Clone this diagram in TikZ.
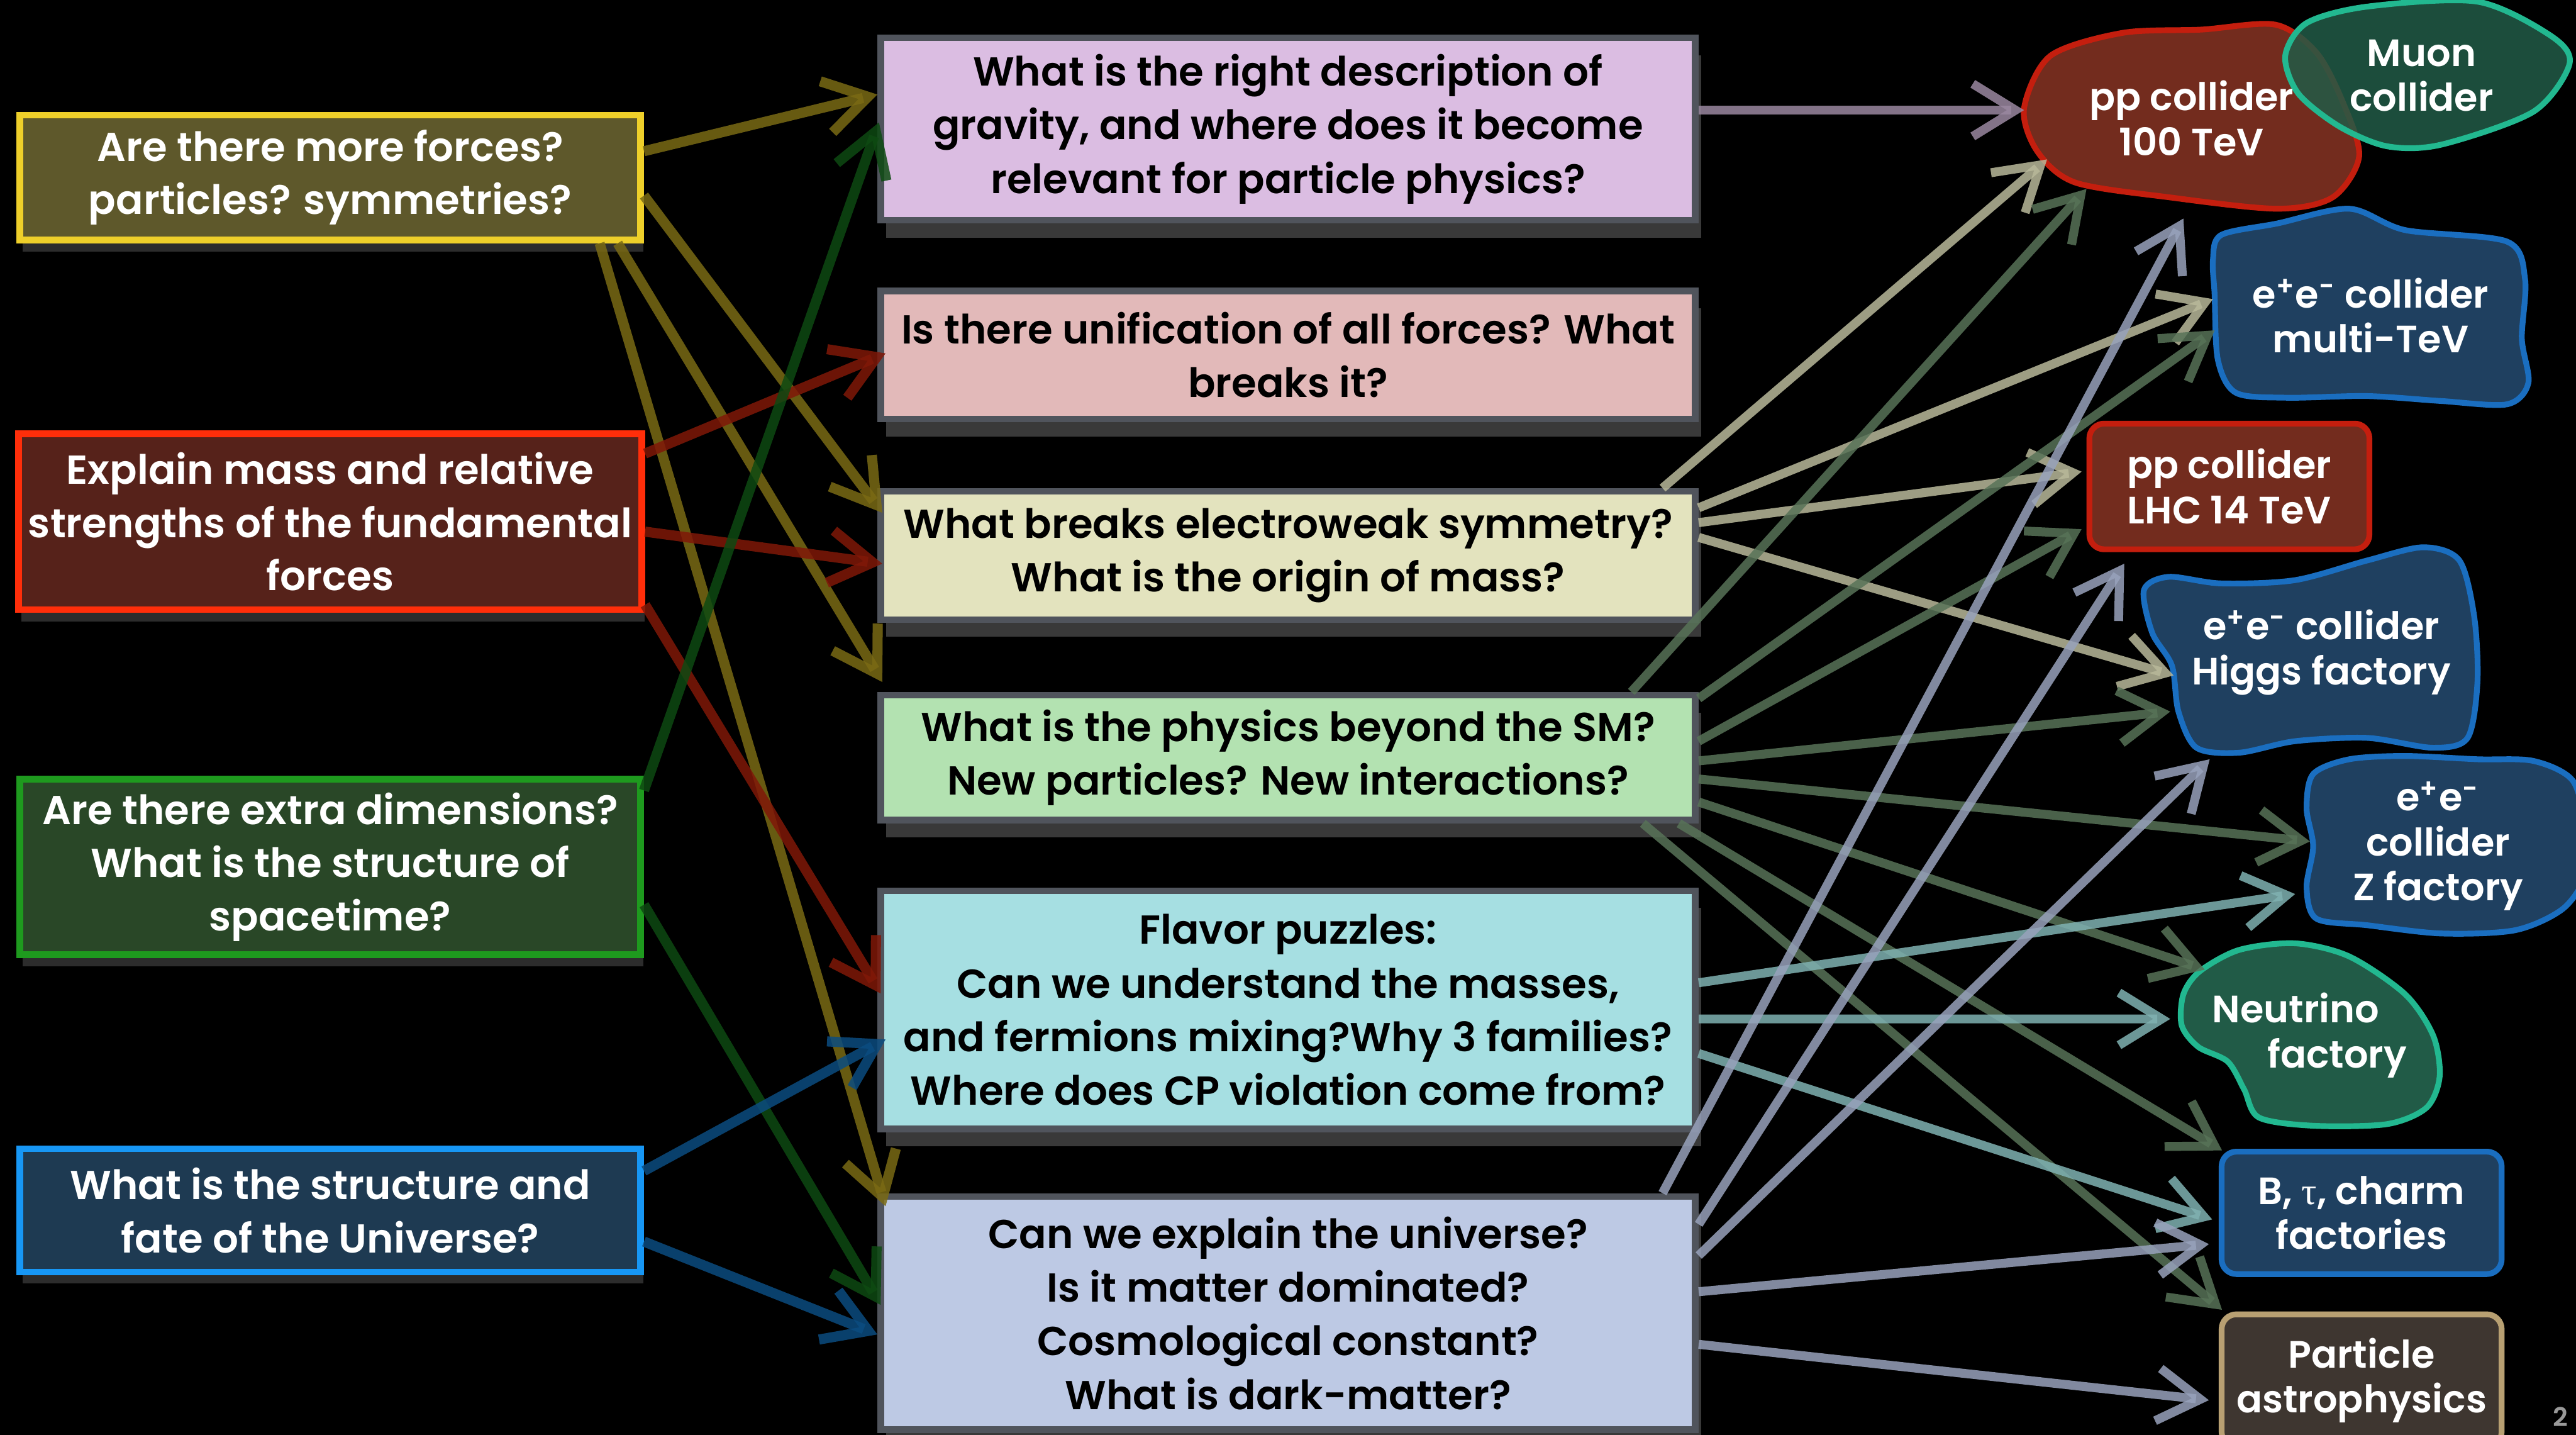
\documentclass[tikz,border=0pt]{standalone}
\usepackage{fontspec}
\setmainfont{Poppins}[BoldFont={* SemiBold}]
\newfontfamily\grkfont{Liberation Serif}
\usetikzlibrary{arrows.meta,calc,shadows}
\definecolor{yelline}{HTML}{EECF2A}
\definecolor{yelfill}{HTML}{5E582B}
\definecolor{redline}{HTML}{FF2E0A}
\definecolor{redfill}{HTML}{56221A}
\definecolor{grnline}{HTML}{1E9A1E}
\definecolor{grnfill}{HTML}{294727}
\definecolor{bluline}{HTML}{1797F5}
\definecolor{blufill}{HTML}{1E3A52}
\definecolor{boxgray}{HTML}{50545C}
\definecolor{gravfill}{HTML}{DBBDE2}
\definecolor{uniffill}{HTML}{E2B9B9}
\definecolor{ewfill}{HTML}{E3E3BE}
\definecolor{bsmfill}{HTML}{B3E2B1}
\definecolor{flavfill}{HTML}{A6DFE2}
\definecolor{cosmfill}{HTML}{BDC9E4}
\definecolor{ppline}{HTML}{C41E0E}
\definecolor{ppfill}{HTML}{732C1E}
\definecolor{muline}{HTML}{22B890}
\definecolor{mufill}{HTML}{215B47}
\definecolor{eeline}{HTML}{1A6EC0}
\definecolor{eefill}{HTML}{1F4060}
\definecolor{astline}{HTML}{B8A072}
\definecolor{astfill}{HTML}{3E3630}
\definecolor{ayel}{HTML}{7A6A14}
\definecolor{ared}{HTML}{801808}
\definecolor{agrn}{HTML}{0E4A12}
\definecolor{ablu}{HTML}{0B4C80}
\definecolor{apur}{HTML}{9A88A0}
\definecolor{acrm}{HTML}{B9B99A}
\definecolor{agry}{HTML}{587358}
\definecolor{acyn}{HTML}{80B2B2}
\definecolor{alav}{HTML}{98A2BC}

\begin{document}
\begin{tikzpicture}[x=0.02cm,y=-0.02cm,
		qbox/.style={draw,line width=2.3pt,minimum width=7.56cm,align=center,text=white,font=\bfseries\fontsize{14}{18.4}\selectfont,drop shadow={shadow xshift=1pt,shadow yshift=-4pt,fill=gray,opacity=.35}},
		pbox/.style={draw=boxgray,line width=2.3pt,minimum width=9.92cm,align=center,font=\bfseries\fontsize{14}{18.6}\selectfont,drop shadow={shadow xshift=2pt,shadow yshift=-6pt,fill=gray,opacity=.45}},
		blob/.style={line width=2pt},
		flab/.style={align=center,text=white,font=\bfseries\fontsize{13.2}{15.6}\selectfont},
		fbox/.style={flab,draw,line width=2pt,rounded corners=0.18cm,minimum width=3.41cm},
		arr/.style={line width=3.5pt,opacity=.85,-{Straight Barb[length=0.52cm,width=0.64cm]}},
		rarr/.style={arr,line width=3.1pt}]
	\fill[black](0,0)rectangle(1568,873);
	\useasboundingbox(0,0)rectangle(1568,873);
	% questions on the left
	\node[qbox,draw=yelline,fill=yelfill,minimum height=1.52cm](forces)at(201,108){Are there more forces?\\particles? symmetries?};
	\node[qbox,draw=redline,fill=redfill,minimum height=2.14cm](mass)at(201,317.5){Explain mass and relative\\strengths of the fundamental\\forces};
	\node[qbox,draw=grnline,fill=grnfill,minimum height=2.14cm](dims)at(201,527.5){Are there extra dimensions?\\What is the structure of\\spacetime?};
	\node[qbox,draw=bluline,fill=blufill,minimum height=1.5cm](fate)at(201,736.5){What is the structure and\\fate of the Universe?};
	% questions in the middle
	\node[pbox,fill=gravfill,minimum height=2.22cm](gravity)at(784,78.5){What is the right description of\\gravity, and where does it become\\relevant for particle physics?};
	\node[pbox,fill=uniffill,minimum height=1.56cm](unif)at(784,216){Is there unification of all forces? What\\breaks it?};
	\node[pbox,fill=ewfill,minimum height=1.56cm](ewsb)at(784,338){What breaks electroweak symmetry?\\What is the origin of mass?};
	\node[pbox,fill=bsmfill,minimum height=1.52cm](bsm)at(784,461){What is the physics beyond the SM?\\New particles? New interactions?};
	\node[pbox,fill=flavfill,minimum height=2.9cm](flavor)at(784,614.5){Flavor puzzles:\\Can we understand the masses,\\and fermions mixing?Why 3 families?\\Where does CP violation come from?};
	\node[pbox,fill=cosmfill,minimum height=2.84cm](cosmo)at(784,799){Can we explain the universe?\\Is it matter dominated?\\Cosmological constant?\\What is dark-matter?};
	% facilities on the right
	\draw[blob,draw=ppline,fill=ppfill]plot[smooth cycle]coordinates{(1232,66)(1248,34)(1292,20)(1340,18)(1385,15)(1410,32)(1426,62)(1436,95)(1420,120)(1386,127)(1320,120)(1263,111)(1240,92)};
	\draw[blob,draw=muline,fill=mufill,fill opacity=.85]plot[smooth cycle]coordinates{(1391,34)(1404,14)(1441,4)(1508,1)(1553,22)(1564,39)(1542,68)(1486,88)(1453,89)(1424,77)(1399,57)};
	\draw[blob,draw=eeline,fill=eefill]plot[smooth cycle]coordinates{(1347,158)(1352,143)(1386,136)(1430,127)(1464,140)(1526,147)(1537,170)(1535,206)(1539,233)(1526,246)(1486,244)(1441,241)(1392,242)(1361,239)(1350,219)(1348,179)};
	\draw[blob,draw=eeline,fill=eefill]plot[smooth cycle]coordinates{(1305,359)(1320,351)(1352,355)(1397,353)(1441,341)(1475,333)(1497,341)(1506,375)(1508,415)(1502,449)(1481,455)(1441,449)(1397,451)(1363,458)(1337,455)(1326,433)(1322,405)(1310,385)};
	\draw[blob,draw=eeline,fill=eefill]plot[smooth cycle]coordinates{(1408,471)(1430,462)(1464,460)(1508,462)(1542,463)(1566,475)(1574,505)(1574,532)(1560,553)(1531,566)(1486,568)(1441,563)(1410,559)(1404,540)(1408,515)(1404,492)};
	\draw[blob,draw=muline,fill=mufill]plot[smooth cycle]coordinates{(1339,591)(1363,578)(1397,574)(1430,582)(1464,605)(1481,630)(1485,655)(1477,674)(1453,684)(1408,685)(1375,680)(1366,663)(1356,646)(1338,637)(1328,624)(1329,605)};
	\node[flab](fcc)at(1334,72){pp collider\\100 TeV};
	\node[flab](muon)at(1474,46){Muon\\collider};
	\node[flab](clic)at(1443,192){e\textsuperscript{+}e\textsuperscript{-} collider\\multi-TeV};
	\node[fbox,draw=ppline,fill=ppfill,minimum height=1.53cm](lhc)at(1357,296){pp collider\\LHC 14 TeV};
	\node[flab](higgs)at(1413,397){e\textsuperscript{+}e\textsuperscript{-} collider\\Higgs factory};
	\node[flab](zfac)at(1484,515){e\textsuperscript{+}e\textsuperscript{-}\\collider\\Z factory};
	\node[flab](nufac)at(1410,630){Neutrino\makebox[0.5cm]{}\\\makebox[0.5cm]{}factory};
	\node[fbox,draw=eeline,fill=eefill,minimum height=1.49cm](bfac)at(1437.5,738){B, {\grkfont\mdseries τ}, charm\\factories};
	\node[fbox,draw=astline,fill=astfill,minimum height=1.61cm](astro)at(1437.5,840){Particle\\astrophysics};
	\node[anchor=south east,inner sep=1pt,text=gray!80,font=\bfseries\fontsize{9}{10}\selectfont](pnum)at(1565,870){2};
	% left to middle
	\draw[arr,draw=ayel]($(forces.east)+(0,-16)$)--($(gravity.west)+(0,-21)$);
	\draw[arr,draw=ayel]($(forces.east)+(0,11)$)--($(ewsb.north west)+(3,15)$);
	\draw[arr,draw=ayel]($(forces.south east)+(-16,0)$)--($(bsm.north west)+(3,-6)$);
	\draw[arr,draw=ayel]($(forces.south east)+(-27,0)$)--($(cosmo.north west)+(5,8)$);
	\draw[arr,draw=ared]($(mass.north east)+(0,14)$)--($(unif.west)+(5,-1)$);
	\draw[arr,draw=ared]($(mass.east)+(0,6)$)--($(ewsb.west)+(3,5)$);
	\draw[arr,draw=ared]($(mass.south east)+(0,-5)$)--($(flavor.west)+(2,-10)$);
	\draw[arr,draw=agrn]($(dims.north east)+(0,9)$)--($(gravity.west)+(1,-4)$);
	\draw[arr,draw=agrn]($(dims.east)+(0,23)$)--($(cosmo.west)+(2,-5)$);
	\draw[arr,draw=ablu]($(fate.east)+(0,-24)$)--($(flavor.west)+(5,18)$);
	\draw[arr,draw=ablu]($(fate.east)+(0,19)$)--($(cosmo.west)+(0,13)$);
	% middle to right
	\draw[rarr,draw=apur]($(gravity.east)+(0,-11.5)$)--($(fcc)+(-102,-5)$);
	\draw[rarr,draw=acrm]($(ewsb.north east)+(-22,0)$)--($(fcc)+(-88,25)$);
	\draw[rarr,draw=acrm]($(ewsb.north east)+(0,12)$)--($(clic)+(-96,-10)$);
	\draw[rarr,draw=acrm]($(ewsb.east)+(0,-20)$)--($(lhc.west)+(-3,-9)$);
	\draw[rarr,draw=acrm]($(ewsb.east)+(0,-11)$)--($(higgs)+(-90,14)$);
	\draw[rarr,draw=agry]($(bsm.north east)+(-41,0)$)--($(fcc)+(-64,43)$);
	\draw[rarr,draw=agry]($(bsm.north east)+(0,4)$)--($(clic)+(-95,9)$);
	\draw[rarr,draw=agry]($(bsm.east)+(0,-10)$)--($(lhc.west)+(-3,26)$);
	\draw[rarr,draw=agry]($(bsm.east)+(0,2)$)--($(higgs)+(-92,36)$);
	\draw[rarr,draw=agry]($(bsm.east)+(0,13)$)--($(zfac)+(-78,-3)$);
	\draw[rarr,draw=agry]($(bsm.east)+(0,27)$)--($(nufac)+(-68,-40)$);
	\draw[rarr,draw=agry]($(bsm.south east)+(-12,0)$)--($(bfac.north west)+(2,1)$);
	\draw[rarr,draw=agry]($(bsm.south east)+(-34,0)$)--($(astro.north west)+(2,-1)$);
	\draw[rarr,draw=acyn]($(flavor.east)+(0,-16.5)$)--($(zfac)+(-87,29)$);
	\draw[rarr,draw=acyn]($(flavor.east)+(0,5.5)$)--($(nufac)+(-89,-10)$);
	\draw[rarr,draw=acyn]($(flavor.east)+(0,26.5)$)--($(bfac.west)+(-4,4)$);
	\draw[rarr,draw=alav]($(cosmo.north east)+(-22,0)$)--($(fcc)+(-5,61)$);
	\draw[rarr,draw=alav]($(cosmo.north east)+(0,19)$)--($(lhc.south west)+(23,7)$);
	\draw[rarr,draw=alav]($(cosmo.north east)+(0,38)$)--($(higgs)+(-68,65)$);
	\draw[rarr,draw=alav]($(cosmo.east)+(0,-13)$)--($(bfac.west)+(-6,19)$);
	\draw[rarr,draw=alav]($(cosmo.east)+(0,19)$)--($(astro.west)+(-6,12)$);
\end{tikzpicture}
\end{document}
